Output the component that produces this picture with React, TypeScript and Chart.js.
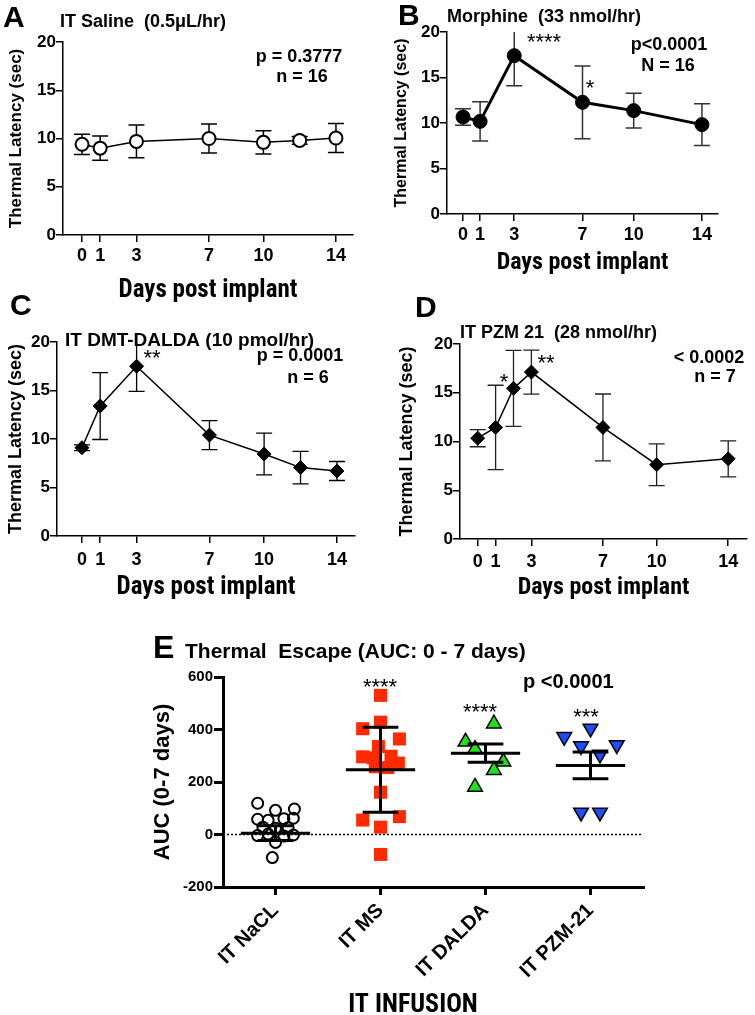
import React, { useEffect, useRef } from "react";
import { Chart, registerables } from "chart.js";
Chart.register(...registerables);

const FONT = 'Arial, "Liberation Sans", Helvetica, sans-serif';
const NARROW = '"Roboto Condensed", "Open Sans Condensed", Arial, sans-serif';

// ---------- Panel A: IT Saline ----------
const aDays = [0, 1, 3, 7, 10, 12, 14];
const aMean = [9.4, 9.0, 9.7, 10.0, 9.6, 9.8, 10.05];
const aErr = [1.05, 1.25, 1.7, 1.5, 1.2, 0.4, 1.5];

// ---------- Panel B: Morphine ----------
const bDays = [0, 1, 3, 7, 10, 14];
const bMean = [10.66, 10.18, 17.4, 12.27, 11.36, 9.82];
const bErr = [0.9, 2.15, 3.3, 4.0, 1.9, 2.3];

// ---------- Panel C: DMT-DALDA ----------
const cDays = [0, 1, 3, 7, 10, 12, 14];
const cMean = [9.1, 13.4, 17.5, 10.4, 8.45, 7.05, 6.7];
const cErr = [0.3, 3.45, 2.6, 1.5, 2.15, 1.67, 0.98];

// ---------- Panel D: PZM 21 ----------
const dDays = [0, 1, 2, 3, 7, 10, 14];
const dMean = [10.34, 11.44, 15.45, 17.12, 11.44, 7.62, 8.22];
const dErr = [0.88, 4.33, 3.9, 2.26, 3.43, 2.14, 1.85];

const dayTicks = [0, 1, 3, 7, 10, 14];
const latencyTicks = [0, 5, 10, 15, 20];

// ---------- Panel E: AUC ----------
const infusionGroups = ["IT NaCL", "IT MS", "IT DALDA", "IT PZM-21"];
const naclAuc = [119, 92, 97, 58, 54, 60, 62, 28, 24, 26, -4, 2, -6, -2, -30, -88];
const naclJitter = [-0.17, 0.0, 0.18, -0.17, -0.07, 0.08, 0.17, -0.12, 0.0, 0.12, -0.17, -0.07, 0.08, 0.17, 0.0, -0.03];
const msAuc = [530, 428, 403, 364, 335, 296, 292, 298, 272, 258, 255, 161, 55, 68, 28, -76];
const msJitter = [0, 0, -0.17, 0.18, -0.02, -0.17, -0.07, 0.1, 0.17, -0.05, 0.07, 0, -0.17, 0.18, 0, 0];
const daldaAuc = [422, 353, 325, 277, 245, 181];
const daldaJitter = [0.08, -0.19, -0.1, 0.17, 0.08, -0.1];
const pzmAuc = [404, 372, 337, 341, 305, 84, 84];
const pzmJitter = [0, -0.25, -0.09, 0.25, 0.09, -0.09, 0.09];
const groupMean = [5, 247, 310, 263];
const groupErr = [28, 162, 35, 51];
const aucTicks = [-200, 0, 200, 400, 600];

type TextItem = { text: string; x: number; y: number; size: number; weight?: string; align?: CanvasTextAlign; star?: boolean; family?: string };

function textPlugin(items: TextItem[]) {
  return {
    id: "texts",
    afterDraw(chart: any) {
      const ctx = chart.ctx;
      ctx.save();
      ctx.fillStyle = "#000";
      ctx.textBaseline = "alphabetic";
      for (const t of items) {
        ctx.font = `${t.weight ?? "bold"} ${t.size}px ${t.family ?? FONT}`;
        ctx.textAlign = t.align ?? "left";
        const y = t.star ? t.y + 0.58 * t.size : t.y;
        ctx.fillText(t.text, t.x, y);
      }
      ctx.restore();
    },
  };
}

function errorBarPlugin(xs: number[], means: number[], errs: number[], cap: number, color: string, width: number) {
  return {
    id: "errbars",
    beforeDatasetsDraw(chart: any) {
      const { ctx, chartArea } = chart;
      const x = chart.scales.x;
      const y = chart.scales.y;
      ctx.save();
      ctx.strokeStyle = color;
      ctx.lineWidth = width;
      xs.forEach((d, i) => {
        const px = x.getPixelForValue(d);
        let yTop = y.getPixelForValue(means[i] + errs[i]);
        const yBot = y.getPixelForValue(means[i] - errs[i]);
        const clipped = yTop < chartArea.top;
        if (clipped) yTop = chartArea.top;
        ctx.beginPath();
        ctx.moveTo(px, yTop);
        ctx.lineTo(px, yBot);
        if (!clipped) {
          ctx.moveTo(px - cap, yTop);
          ctx.lineTo(px + cap, yTop);
        }
        ctx.moveTo(px - cap, yBot);
        ctx.lineTo(px + cap, yBot);
        ctx.stroke();
      });
      ctx.restore();
    },
  };
}

type LinePanel = {
  left: number; top: number; w: number; h: number;
  area: { l: number; t: number; r: number; b: number };
  xMin: number; xMax: number;
  days: number[]; mean: number[]; err: number[];
  pointStyle: string; pointRadius: number; pointBg: string; pointBorderWidth: number;
  lineWidth: number; errColor: string; errWidth: number;
  yTitleSize: number; yTitlePad: number; xTitleSize: number; xTitlePad: number; xTickPad: number;
  texts: TextItem[];
};

function lineConfig(p: LinePanel): any {
  const axisFont = (size: number) => ({ family: FONT, size, weight: "bold" as const });
  return {
    type: "line",
    data: {
      datasets: [
        {
          data: p.days.map((d, i) => ({ x: d, y: p.mean[i] })),
          borderColor: "#000",
          borderWidth: p.lineWidth,
          pointStyle: p.pointStyle,
          pointRadius: p.pointRadius,
          pointBackgroundColor: p.pointBg,
          pointBorderColor: "#000",
          pointBorderWidth: p.pointBorderWidth,
          tension: 0,
          fill: false,
          clip: false,
        },
      ],
    },
    options: {
      responsive: false,
      animation: false,
      devicePixelRatio: 1,
      events: [],
      layout: { padding: { left: 0, top: p.area.t, right: p.w - p.area.r, bottom: 0 } },
      plugins: { legend: { display: false }, tooltip: { enabled: false }, title: { display: false } },
      scales: {
        x: {
          type: "linear",
          min: p.xMin,
          max: p.xMax,
          afterBuildTicks: (s: any) => {
            s.ticks = dayTicks.map((v) => ({ value: v }));
          },
          afterFit: (s: any) => {
            s.height = p.h - p.area.b;
          },
          grid: { display: true, drawOnChartArea: false, drawTicks: true, tickLength: 7, color: "#000", lineWidth: 1.5 },
          border: { display: true, color: "#000", width: 1.5 },
          ticks: { color: "#000", font: axisFont(18), padding: p.xTickPad, maxRotation: 0, minRotation: 0, autoSkip: false },
          title: {
            display: true, text: "Days post implant", color: "#000",
            font: { family: NARROW, size: p.xTitleSize, weight: "bold" },
            padding: { top: 0, bottom: p.xTitlePad },
          },
        },
        y: {
          type: "linear",
          min: 0,
          max: 20,
          afterBuildTicks: (s: any) => {
            s.ticks = latencyTicks.map((v) => ({ value: v }));
          },
          afterFit: (s: any) => {
            s.width = p.area.l;
          },
          grid: { display: true, drawOnChartArea: false, drawTicks: true, tickLength: 7, color: "#000", lineWidth: 1.5 },
          border: { display: true, color: "#000", width: 1.5 },
          ticks: { color: "#000", font: axisFont(17), padding: 0 },
          title: { display: true, text: "Thermal Latency (sec)", color: "#000", font: axisFont(p.yTitleSize), padding: { top: p.yTitlePad, bottom: 0 } },
        },
      },
    },
    plugins: [errorBarPlugin(p.days, p.mean, p.err, 8, p.errColor, p.errWidth), textPlugin(p.texts)],
  };
}

const panelA: LinePanel = {
  left: 0, top: 0, w: 375, h: 310,
  area: { l: 63, t: 42, r: 353, b: 235 }, xMin: -1.05, xMax: 14.94,
  days: aDays, mean: aMean, err: aErr,
  pointStyle: "circle", pointRadius: 6.5, pointBg: "#fff", pointBorderWidth: 2,
  lineWidth: 1.5, errColor: "#000", errWidth: 1.5,
  yTitleSize: 17, yTitlePad: 5.8, xTitleSize: 25, xTitlePad: 4, xTickPad: 3,
  texts: [
    { text: "A", x: 3, y: 27, size: 30 },
    { text: "IT Saline  (0.5μL/hr)", x: 60, y: 27, size: 18 },
    { text: "p = 0.3777", x: 299, y: 62, size: 18, align: "center" },
    { text: "n = 16", x: 302, y: 82, size: 18, align: "center" },
  ],
};

const panelB: LinePanel = {
  left: 375, top: 0, w: 380, h: 285,
  area: { l: 72, t: 32, r: 343, b: 214 }, xMin: -0.94, xMax: 14.94,
  days: bDays, mean: bMean, err: bErr,
  pointStyle: "circle", pointRadius: 7, pointBg: "#000", pointBorderWidth: 1,
  lineWidth: 3, errColor: "#333", errWidth: 1.5,
  yTitleSize: 16, yTitlePad: 16.9, xTitleSize: 24, xTitlePad: 7.5, xTickPad: 3,
  texts: [
    { text: "B", x: 23, y: 25, size: 30 },
    { text: "Morphine  (33 nmol/hr)", x: 72, y: 22, size: 18 },
    { text: "p<0.0001", x: 294, y: 50, size: 18, align: "center" },
    { text: "N = 16", x: 293, y: 71, size: 18, align: "center" },
    { text: "****", x: 169, y: 36, size: 22, weight: "normal", align: "center", star: true },
    { text: "*", x: 215, y: 82, size: 22, weight: "normal", align: "center", star: true },
  ],
};

const panelC: LinePanel = {
  left: 0, top: 285, w: 375, h: 320,
  area: { l: 57, t: 57, r: 355, b: 251 }, xMin: -1.37, xMax: 14.99,
  days: cDays, mean: cMean, err: cErr,
  pointStyle: "rectRot", pointRadius: 7, pointBg: "#000", pointBorderWidth: 1,
  lineWidth: 1.5, errColor: "#000", errWidth: 1.3,
  yTitleSize: 18, yTitlePad: 5.2, xTitleSize: 25, xTitlePad: 2, xTickPad: 6,
  texts: [
    { text: "C", x: 10, y: 30, size: 30 },
    { text: "IT DMT-DALDA (10 pmol/hr)", x: 65, y: 61, size: 19 },
    { text: "p = 0.0001", x: 300, y: 76, size: 18, align: "center" },
    { text: "n = 6", x: 308, y: 98, size: 18, align: "center" },
    { text: "**", x: 152, y: 67, size: 22, weight: "normal", align: "center", star: true },
  ],
};

const panelD: LinePanel = {
  left: 375, top: 285, w: 380, h: 320,
  area: { l: 85, t: 59, r: 377, b: 254 }, xMin: -0.99, xMax: 15.05,
  days: dDays, mean: dMean, err: dErr,
  pointStyle: "rectRot", pointRadius: 7, pointBg: "#000", pointBorderWidth: 1,
  lineWidth: 1.5, errColor: "#222", errWidth: 1.3,
  yTitleSize: 18, yTitlePad: 21.7, xTitleSize: 24, xTitlePad: 2.6, xTickPad: 5,
  texts: [
    { text: "D", x: 40, y: 32, size: 30 },
    { text: "IT PZM 21  (28 nmol/hr)", x: 85, y: 53, size: 18 },
    { text: "< 0.0002", x: 334, y: 78, size: 18, align: "center" },
    { text: "n = 7", x: 340, y: 97, size: 18, align: "center" },
    { text: "*", x: 129, y: 91, size: 22, weight: "normal", align: "center", star: true },
    { text: "**", x: 171, y: 72, size: 22, weight: "normal", align: "center", star: true },
  ],
};

const E_BOX = { left: 120, top: 590, w: 560, h: 425, area: { l: 103, t: 87, r: 523, b: 297 } };

function aucConfig(): any {
  const axisFont = (size: number) => ({ family: FONT, size, weight: "bold" as const });
  const pts = (vals: number[], jit: number[], g: number) => vals.map((v, i) => ({ x: g + jit[i], y: v }));
  const meanPlugin = {
    id: "means",
    beforeDatasetsDraw(chart: any) {
      const { ctx, chartArea } = chart;
      const y0 = chart.scales.y.getPixelForValue(0);
      ctx.save();
      ctx.strokeStyle = "#000";
      ctx.lineWidth = 1.5;
      ctx.setLineDash([2, 2]);
      ctx.beginPath();
      ctx.moveTo(chartArea.left, y0);
      ctx.lineTo(chartArea.right, y0);
      ctx.stroke();
      ctx.restore();
    },
    afterDatasetsDraw(chart: any) {
      const { ctx } = chart;
      const x = chart.scales.x;
      const y = chart.scales.y;
      ctx.save();
      ctx.strokeStyle = "#000";
      ctx.lineWidth = 3;
      ctx.lineCap = "butt";
      groupMean.forEach((m, g) => {
        const xl = x.getPixelForValue(g - 0.33);
        const xr = x.getPixelForValue(g + 0.33);
        const cl = x.getPixelForValue(g - 0.17);
        const cr = x.getPixelForValue(g + 0.17);
        const xc = x.getPixelForValue(g);
        const ym = y.getPixelForValue(m);
        const yh = y.getPixelForValue(m + groupErr[g]);
        const yl = y.getPixelForValue(m - groupErr[g]);
        ctx.beginPath();
        ctx.moveTo(xl, ym);
        ctx.lineTo(xr, ym);
        ctx.moveTo(xc, yh);
        ctx.lineTo(xc, yl);
        ctx.moveTo(cl, yh);
        ctx.lineTo(cr, yh);
        ctx.moveTo(cl, yl);
        ctx.lineTo(cr, yl);
        ctx.stroke();
      });
      ctx.restore();
    },
  };
  const texts: TextItem[] = [
    { text: "E", x: 33, y: 68, size: 32 },
    { text: "Thermal  Escape (AUC: 0 - 7 days)", x: 65, y: 68, size: 21 },
    { text: "p <0.0001", x: 403, y: 98, size: 20 },
    { text: "****", x: 260, y: 91, size: 22, weight: "normal", align: "center", star: true },
    { text: "****", x: 360, y: 116, size: 22, weight: "normal", align: "center", star: true },
    { text: "***", x: 466, y: 121, size: 22, weight: "normal", align: "center", star: true },
    { text: "IT INFUSION", x: 293, y: 422, size: 26, align: "center", family: NARROW },
  ];
  return {
    type: "scatter",
    data: {
      datasets: [
        { data: pts(naclAuc, naclJitter, 0), pointStyle: "circle", pointRadius: 5.5, pointBackgroundColor: "rgba(0,0,0,0)", pointBorderColor: "#000", pointBorderWidth: 2 },
        { data: pts(msAuc, msJitter, 1), pointStyle: "rect", pointRadius: 9.2, pointBackgroundColor: "#FF2A00", pointBorderColor: "#FF2A00", pointBorderWidth: 0 },
        { data: pts(daldaAuc, daldaJitter, 2), pointStyle: "triangle", pointRadius: 8.5, pointBackgroundColor: "#20E020", pointBorderColor: "#000", pointBorderWidth: 1.5 },
        { data: pts(pzmAuc, pzmJitter, 3), pointStyle: "triangle", rotation: 180, pointRotation: 180, pointRadius: 8.5, pointBackgroundColor: "#1E4CFF", pointBorderColor: "#000", pointBorderWidth: 1.5 },
      ],
    },
    options: {
      responsive: false,
      animation: false,
      devicePixelRatio: 1,
      events: [],
      layout: { padding: { left: 0, top: E_BOX.area.t, right: E_BOX.w - E_BOX.area.r, bottom: 0 } },
      plugins: { legend: { display: false }, tooltip: { enabled: false } },
      scales: {
        x: {
          type: "linear",
          min: -0.5,
          max: 3.5,
          afterBuildTicks: (s: any) => {
            s.ticks = infusionGroups.map((_, i) => ({ value: i }));
          },
          afterFit: (s: any) => {
            s.height = E_BOX.h - E_BOX.area.b;
          },
          grid: { display: true, drawOnChartArea: false, drawTicks: true, tickLength: 8, color: "#000", lineWidth: 3 },
          border: { display: true, color: "#000", width: 3 },
          ticks: {
            color: "#000", font: axisFont(20), padding: 4, minRotation: 45, maxRotation: 45, autoSkip: false,
            callback: (v: any) => infusionGroups[Math.round(v)] ?? "",
          },
        },
        y: {
          type: "linear",
          min: -200,
          max: 600,
          afterBuildTicks: (s: any) => {
            s.ticks = aucTicks.map((v) => ({ value: v }));
          },
          afterFit: (s: any) => {
            s.width = E_BOX.area.l;
          },
          grid: { display: true, drawOnChartArea: false, drawTicks: true, tickLength: 9, color: "#000", lineWidth: 3 },
          border: { display: true, color: "#000", width: 3 },
          ticks: { color: "#000", font: axisFont(15), padding: 1 },
          title: { display: true, text: "AUC (0-7 days)", color: "#000", font: axisFont(22), padding: { top: 30, bottom: 0 } },
        },
      },
    },
    plugins: [meanPlugin, textPlugin(texts)],
  };
}

function ChartBox(props: { left: number; top: number; w: number; h: number; build: () => any }) {
  const ref = useRef<HTMLCanvasElement>(null);
  useEffect(() => {
    const chart = new Chart(ref.current as HTMLCanvasElement, props.build());
    return () => chart.destroy();
  }, []);
  return (
    <canvas
      ref={ref}
      width={props.w}
      height={props.h}
      style={{ position: "absolute", left: props.left, top: props.top, width: props.w, height: props.h }}
    />
  );
}

export default function App() {
  const linePanels = [panelA, panelB, panelC, panelD];
  return (
    <div style={{ position: "absolute", left: 0, top: 0, width: 755, height: 1015, background: "#fff", overflow: "hidden" }}>
      {linePanels.map((p, i) => (
        <ChartBox key={i} left={p.left} top={p.top} w={p.w} h={p.h} build={() => lineConfig(p)} />
      ))}
      <ChartBox left={E_BOX.left} top={E_BOX.top} w={E_BOX.w} h={E_BOX.h} build={aucConfig} />
    </div>
  );
}
